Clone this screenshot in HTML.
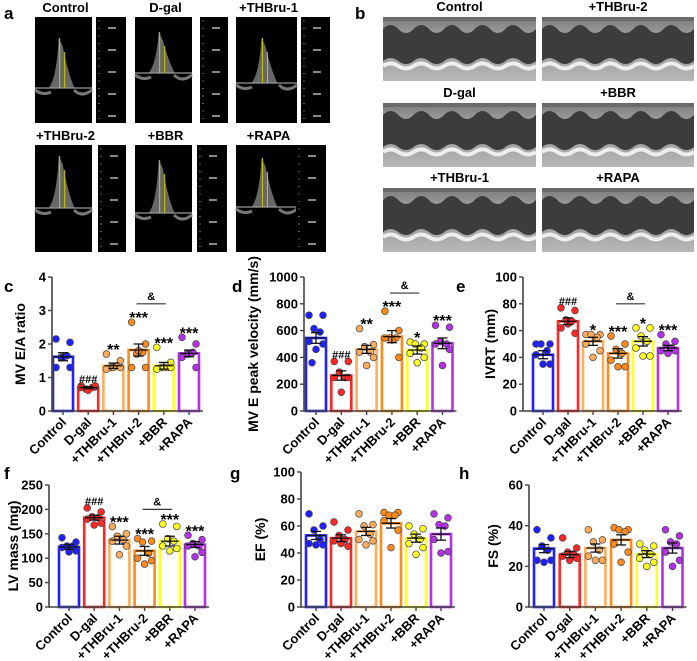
<!DOCTYPE html>
<html><head><meta charset="utf-8">
<style>
html,body{margin:0;padding:0;background:#fff;}
svg{display:block;font-family:"Liberation Sans",Arial,sans-serif;}
</style></head>
<body>
<svg id="fig" width="697" height="661" viewBox="0 0 697 661" xmlns="http://www.w3.org/2000/svg">
<defs>
<linearGradient id="echo" x1="0" y1="0" x2="0" y2="1">
<stop offset="0" stop-color="#7a7a7a"/><stop offset="0.25" stop-color="#9a9a9a"/><stop offset="0.75" stop-color="#a8a8a8"/><stop offset="1" stop-color="#b8b8b8"/>
</linearGradient>
</defs>
<g id="panelA"></g>
<g id="panelB"></g>
<g id="charts"></g>
</svg>
<script>
const NS="http://www.w3.org/2000/svg";
function mk(tag,attrs,parent,text){const e=document.createElementNS(NS,tag);for(const k in attrs)e.setAttribute(k,attrs[k]);if(text!==undefined)e.textContent=text;parent.appendChild(e);return e;}

// ---------- Chart data ----------
const categories=["Control","D-gal","+THBru-1","+THBru-2","+BBR","+RAPA"];
const colors=["#1f1fff","#ff2626","#ffad5c","#ff8a1a","#ffff22","#b530e8"];

const eaMeans=[1.62,0.70,1.35,1.82,1.35,1.72];
const eaSem=[0.12,0.03,0.08,0.18,0.10,0.10];
const eaPoints=[[2.15,2.05,1.6,1.65,1.3,1.3,1.6],[0.75,0.72,0.65,0.7,0.7,0.75,0.62],[1.7,1.5,1.3,1.35,1.25,1.3,1.3],[2.65,2.0,1.7,1.75,1.3,1.3,1.8],[1.9,1.45,1.3,1.3,1.25,1.3,1.3],[2.2,2.0,1.7,1.75,1.6,1.3,1.7]];
const eaSig=["","###","**","***","***","***"];
const eaTicks=[0,1,2,3,4];

const veMeans=[545,265,460,555,455,505];
const veSem=[40,35,30,45,30,40];
const vePoints=[[715,715,615,590,520,500,460,360],[370,370,290,250,250,250,140],[615,495,480,440,440,400,340],[745,600,545,545,545,400,530],[515,500,500,470,430,400,360],[640,625,520,500,500,460,340]];
const veSig=["","###","**","***","*","***"];
const veTicks=[0,200,400,600,800,1000];

const ivMeans=[42,67,52,43,52,47];
const ivSem=[3,2.5,3,3.5,3.5,2];
const ivPoints=[[50,50,50,45,42,35,35],[77,75,68,67,62,58,65],[57,57,57,55,50,45,40],[56,50,46,43,38,33,33],[62,62,56,52,47,41,41],[57,52,50,47,45,45,43]];
const ivSig=["","###","*","***","*","***"];
const ivTicks=[0,20,40,60,80,100];

const lvMeans=[123,183,137,115,135,128];
const lvSem=[5,5,8,9,10,6];
const lvPoints=[[142,133,125,125,122,115,113],[203,195,185,183,180,172,168],[165,150,145,138,135,125,107],[140,135,133,110,100,95,88],[170,165,140,135,125,120,115],[147,138,130,125,125,112,103]];
const lvSig=["","###","***","***","***","***"];
const lvTicks=[0,50,100,150,200,250];

const efMeans=[53,51,56,62,51,54];
const efSem=[3,2.5,3,3.5,3,4.5];
const efPoints=[[69,60,57,50,47,46,46],[63,57,53,50,49,45,47],[69,61,60,54,50,49,46],[70,70,68,68,64,57,44],[60,58,54,50,47,44,39],[69,66,61,60,50,41,40]];
const efTicks=[0,20,40,60,80,100];

const fsMeans=[28.7,25.8,29,33,26,29];
const fsSem=[2,1.5,2,2.5,1.7,2.5];
const fsPoints=[[38,34,30,28,23,23,22],[34,29,27,26,25,24,23],[38,33,32,28,25,23,23],[39,38,38,37,31,27,22],[31,30,28,26,24,22,20],[38,35,32,31,27,23,20]];
const fsTicks=[0,20,40,60];

const jit=[-7,7,-2,4,-7,7,0,-4];

function chart(o){
  const root=document.getElementById('charts');
  const g=mk('g',{},root);
  
  
  const ymax=o.ticks[o.ticks.length-1];
  const ys=v=>o.y0-v/ymax*(o.y0-o.ytop);
  const xs=i=>o.x0+o.first+i*o.step;
  const L=mk('text',{x:o.lx,y:o.ly,'font-size':17,'font-weight':'bold'},g,o.letter);
  
  
  o.means.forEach((m,i)=>{
    const b=mk('rect',{x:xs(i)-10,y:ys(m),width:20,height:o.y0-ys(m),fill:'#fff',stroke:colors[i],'stroke-width':2.6},g);
    
    
  });
  o.points.forEach((arr,i)=>{arr.forEach((v,j)=>{
    const c=mk('circle',{cx:xs(i)+jit[j%jit.length],cy:ys(v),r:3.4,fill:colors[i],stroke:'#444','stroke-width':0.7},g);
    
    
  });});
  o.means.forEach((m,i)=>{
    const x=xs(i),a=ys(m+o.sem[i]),b=ys(m-o.sem[i]);
    mk('line',{x1:x,x2:x,y1:a,y2:b,stroke:'#111','stroke-width':1.3},g);
    mk('line',{x1:x-5,x2:x+5,y1:a,y2:a,stroke:'#111','stroke-width':1.3},g);
    mk('line',{x1:x-5,x2:x+5,y1:b,y2:b,stroke:'#111','stroke-width':1.3},g);
    mk('line',{x1:x-9,x2:x+9,y1:ys(m),y2:ys(m),stroke:'#111','stroke-width':1.3},g);
  });
  const ax=mk('path',{d:`M${o.x0},${o.ytop}V${o.y0}H${xs(5)+14}`,fill:'none',stroke:'#444','stroke-width':1.6},g);
  
  
  o.ticks.forEach(t=>{
    mk('line',{x1:o.x0-4,x2:o.x0,y1:ys(t),y2:ys(t),stroke:'#444','stroke-width':1.4},g);
    const tt=mk('text',{x:o.x0-6,y:ys(t)+4.5,'font-size':13,'font-weight':'bold','text-anchor':'end'},g,String(t));
    
    
  });
  categories.forEach((c,i)=>{
    mk('line',{x1:xs(i),x2:xs(i),y1:o.y0,y2:o.y0+4,stroke:'#444','stroke-width':1.4},g);
    const t=mk('text',{x:xs(i)+4,y:o.y0+12,'font-size':13,'font-weight':'bold','text-anchor':'end',transform:`rotate(-45 ${xs(i)+4} ${o.y0+12})`},g,c);
    
    
  });
  const yc=(o.y0+o.ytop)/2;
  const yt=mk('text',{x:o.x0-o.tOff,y:yc,'font-size':14,'font-weight':'bold','text-anchor':'middle',transform:`rotate(-90 ${o.x0-o.tOff} ${yc})`},g,o.title);
  
  
  if(o.sig){o.sig.forEach((s,i)=>{ if(!s)return;
    const top=Math.min(ys(Math.max(...o.points[i])),ys(o.means[i]+o.sem[i]));
    const st=mk('text',{x:xs(i),y:s[0]==='#'?top-3:top+1,'font-size':s[0]==='#'?11:16,'font-weight':'bold','text-anchor':'middle'},g,s);
    
    
  });}
  if(o.br!==undefined){
    const by=ys(o.br);
    mk('line',{x1:xs(3)-2,x2:xs(4)+2,y1:by,y2:by,stroke:'#333','stroke-width':1.2},g);
    const at=mk('text',{x:(xs(3)+xs(4))/2,y:by-4,'font-size':11,'font-weight':'bold','text-anchor':'middle'},g,'&');
    
    
  }
}

chart({name:'chart-ea-ratio',letter:'c',lx:4,ly:292,x0:52,first:11,step:25.2,y0:411,ytop:277,ticks:eaTicks,means:eaMeans,sem:eaSem,points:eaPoints,sig:eaSig,br:3.2,title:'MV E/A ratio',tOff:27});
chart({name:'chart-e-velocity',letter:'d',lx:232,ly:292,x0:304,first:12,step:25.3,y0:411,ytop:277,ticks:veTicks,means:veMeans,sem:veSem,points:vePoints,sig:veSig,br:880,title:'MV E peak velocity (mm/s)',tOff:46});
chart({name:'chart-ivrt',letter:'e',lx:456,ly:292,x0:523,first:20,step:25,y0:411,ytop:277,ticks:ivTicks,means:ivMeans,sem:ivSem,points:ivPoints,sig:ivSig,br:80,title:'IVRT (mm)',tOff:28});
chart({name:'chart-lv-mass',letter:'f',lx:4,ly:479,x0:49,first:20,step:25.2,y0:607,ytop:485,ticks:lvTicks,means:lvMeans,sem:lvSem,points:lvPoints,sig:lvSig,br:200,title:'LV mass (mg)',tOff:31});
chart({name:'chart-ef',letter:'g',lx:230,ly:479,x0:301,first:15,step:25,y0:607,ytop:472,ticks:efTicks,means:efMeans,sem:efSem,points:efPoints,title:'EF (%)',tOff:36});
chart({name:'chart-fs',letter:'h',lx:459,ly:479,x0:529,first:15,step:25.7,y0:607,ytop:485,ticks:fsTicks,means:fsMeans,sem:fsSem,points:fsPoints,title:'FS (%)',tOff:31});

// ---------- Panel a: Doppler ----------
(function(){
  const g=document.getElementById('panelA');
  const t=mk('text',{x:4,y:19,'font-size':17,'font-weight':'bold'},g,'a');
  
  
  const imgs=[
    {n:'Control',x:35,w:57,sx:96,sw:30,y:17,h:106,base:88,peak:38},
    {n:'D-gal',x:135,w:57,sx:200,sw:28,y:17,h:106,base:73,peak:32},
    {n:'+THBru-1',x:236,w:61,sx:301,sw:29,y:17,h:106,base:83,peak:38},
    {n:'+THBru-2',x:35,w:57,sx:98,sw:28,y:145,h:107,base:208,peak:156},
    {n:'+BBR',x:135,w:57,sx:197,sw:30,y:145,h:107,base:213,peak:160},
    {n:'+RAPA',x:236,w:61,sx:296,sw:30,y:145,h:107,base:207,peak:158}];
  imgs.forEach(d=>{
    const tt=mk('text',{x:d.x+d.w/2+2,y:d.y-5,'font-size':13,'font-weight':'bold','text-anchor':'middle'},g,d.n);
    
    
    const r=mk('rect',{x:d.x,y:d.y,width:d.w,height:d.h,fill:'#000'},g);
    
    
    const cx=d.x+d.w*0.45;
    mk('path',{d:`M${cx-12},${d.base}Q${cx-4},${d.base-10} ${cx-2},${d.peak}L${cx+2},${d.peak+8}Q${cx+8},${d.base-12} ${cx+14},${d.base}Z`,fill:'#8a8a8a',opacity:0.75},g);
    mk('path',{d:`M${d.x},${d.base+2}q8,6 16,2M${d.x+d.w-18},${d.base+2}q8,8 18,0`,fill:'none',stroke:'#777','stroke-width':3},g);
    mk('line',{x1:d.x,x2:d.x+d.w,y1:d.base,y2:d.base,stroke:'#999','stroke-width':1.2},g);
    mk('line',{x1:cx-1,x2:cx-1,y1:d.peak,y2:d.base,stroke:'#c8c800','stroke-width':1},g);
    mk('line',{x1:cx+4,x2:cx+4,y1:d.peak+14,y2:d.base,stroke:'#c8c800','stroke-width':1},g);
    const s=mk('rect',{x:d.sx,y:d.y,width:d.sw,height:d.h,fill:'#000'},g);
    
    
    for(let k=0;k<14;k++) mk('line',{x1:d.sx+2,x2:d.sx+4,y1:d.y+4+k*7.5,y2:d.y+4+k*7.5,stroke:'#777','stroke-width':0.8},g);
    for(let k=0;k<5;k++) mk('rect',{x:d.sx+12,y:d.y+10+k*22,width:8,height:2,fill:'#888'},g);
  });
})();

// ---------- Panel b: M-mode ----------
(function(){
  const g=document.getElementById('panelB');
  const t=mk('text',{x:355,y:19,'font-size':17,'font-weight':'bold'},g,'b');
  
  
  const imgs=[
    {n:'Control',x:383,y:17,w:153},{n:'+THBru-2',x:542,y:17,w:152},
    {n:'D-gal',x:383,y:103,w:153},{n:'+BBR',x:542,y:103,w:152},
    {n:'+THBru-1',x:383,y:188,w:153},{n:'+RAPA',x:542,y:188,w:152}];
  imgs.forEach(d=>{
    const h=64;
    const tt=mk('text',{x:d.x+d.w/2,y:d.y-6,'font-size':13,'font-weight':'bold','text-anchor':'middle'},g,d.n);
    
    
    const r=mk('rect',{x:d.x,y:d.y,width:d.w,height:h,fill:'url(#echo)'},g);
    
    
    let top=`M${d.x},${d.y+12}`;
    const n=5, p=d.w/n;
    for(let k=0;k<n;k++){top+=`q${p/4},-8 ${p/2},0t${p/2},0`;}
    let path=top+`V${d.y+44}`;
    for(let k=0;k<n;k++){path+=`q-${p/4},6 -${p/2},0t-${p/2},0`;}
    path+='Z';
    mk('path',{d:path,fill:'#3c3c3c'},g);
    let wl=`M${d.x},${d.y+49}`;
    for(let k=0;k<n;k++){wl+=`q${p/4},-5 ${p/2},0t${p/2},0`;}
    mk('path',{d:wl,fill:'none',stroke:'#eeeeee','stroke-width':4},g);
    mk('rect',{x:d.x,y:d.y,width:d.w,height:4,fill:'#6a6a6a'},g);
  });
})();
</script>
</body></html>
